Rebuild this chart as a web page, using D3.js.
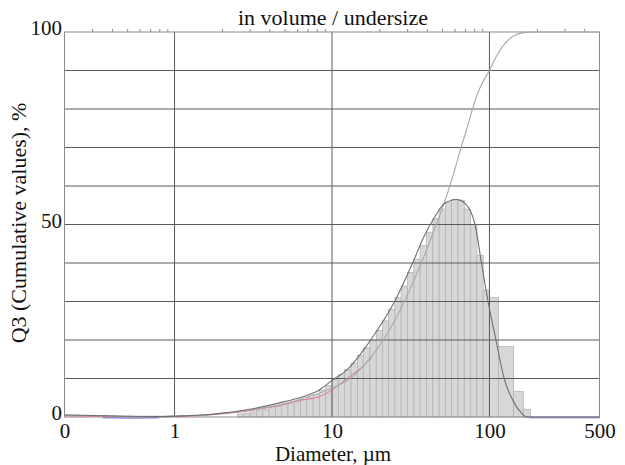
<!DOCTYPE html>
<html>
<head>
<meta charset="utf-8">
<script src="https://cdn.jsdelivr.net/npm/d3@7"></script>
<style>
  body { margin: 0; background: #fff; }
  text { font-family: "Liberation Serif", "Times New Roman", serif; fill: #111; }
</style>
</head>
<body>
<svg id="chart" width="625" height="465"></svg>
<script>
// x tick labels (first one is printed as "0" on the original)
var xTicks = [0.2, 1, 10, 100, 500];
var xTickText = ["0", "1", "10", "100", "500"];
var xGrid = [1, 10, 100];
var yTicks = [0, 50, 100];
var yGrid = [10, 20, 30, 40, 50, 60, 70, 80, 90];
var minorTicks = [0.3, 0.4, 0.5, 0.6, 0.7, 0.8, 0.9, 2, 3, 4, 5, 6, 7, 8, 9,
                  20, 30, 40, 50, 60, 70, 80, 90, 200, 300, 400];

// histogram bins (um edges) and heights
var binEdges = [2.51, 2.75, 3.02, 3.31, 3.63, 3.98, 4.37, 4.79, 5.25, 5.75, 6.31,
                6.92, 7.59, 8.32, 9.12, 10.0, 11.0, 12.0, 13.2, 14.5, 15.8,
                17.4, 19.1, 20.9, 22.9, 25.1, 27.5, 30.2, 33.1, 36.3, 39.8,
                43.7, 47.9, 52.5, 57.5, 63.1, 69.2, 75.9, 83.2, 91.2, 100,
                114, 142, 164, 182];
var binValues = [0.8, 1.0, 1.3, 1.6, 2.0, 2.4, 2.8, 3.2, 3.6, 4.0,
                 4.5, 5.0, 5.8, 7.0, 8.2, 9.7, 11.0, 12.3, 14.0, 16.0,
                 18.0, 20.0, 22.5, 25.0, 28.0, 31.0, 34.0, 37.5, 41.0, 44.5,
                 48.0, 51.5, 54.0, 55.8, 56.5, 56.3, 54.0, 50.0, 42.0, 33.0,
                 31.0, 18.3, 6.6, 2.0];

// cumulative curve Q3
var cumDiam = [0.2, 0.3, 0.5, 0.8, 1, 1.5, 2, 3, 5, 7, 10, 13, 16, 20, 25, 30, 36, 40,
               45, 50, 55, 60, 66, 72, 78, 85, 92, 100, 110, 120, 135, 150, 170, 200, 300, 500];
var cumValues = [0.5, 0.4, 0.2, 0.2, 0.3, 0.5, 0.9, 1.8, 3.5, 5.2, 7.5, 10, 13.5, 18.5, 25, 31.5, 39, 43.5,
                 49, 54, 59, 64, 70, 75, 80, 84.5, 87.5, 90, 93.5, 96, 98.3, 99.4, 99.9, 100, 100, 100];

// density curve q3
var densDiam = [0.2, 0.3, 0.5, 0.8, 1, 1.5, 2, 3, 5, 6.2, 8.3, 10, 12.5, 15.6, 19, 25, 32.5, 38,
                45, 52, 62, 70, 81, 89, 98, 110, 124, 143, 160, 172, 200, 500];
var densValues = [0.5, 0.4, 0.2, 0.1, 0.2, 0.5, 1, 2, 4, 5, 7, 9.5, 12.3, 17, 22, 30, 40, 46.5,
                  52, 55.5, 56.5, 55.5, 50, 40, 30, 20, 10, 3.8, 1, 0, 0, 0];

// second sample (pink) and baseline (blue) traces
var pinkDiam = [0.2, 0.5, 1, 1.5, 2, 3, 4, 5, 6.2, 8.2, 10, 12, 15, 18];
var pinkValues = [0.3, 0.1, 0.1, 0.4, 0.8, 1.6, 2.5, 3.3, 4.3, 5.2, 7, 9.5, 12.5, 15.5];
var blueDiamA = [0.35, 0.55, 0.8];
var blueValuesA = [-0.2, -0.3, -0.2];
var blueDiamB = [180, 300, 500];
var blueValuesB = [-0.2, -0.2, -0.2];

var svg = d3.select("#chart");
var x = d3.scaleLog().domain([0.2, 500]).range([64.5, 599.5]);
var y = d3.scaleLinear().domain([0, 100]).range([417, 32]);

// histogram bars
svg.append("g").selectAll("rect")
    .data(binValues)
    .enter()
    .append("rect")
    .attr("x", function (d, i) { return x(binEdges[i]); })
    .attr("width", function (d, i) { return x(binEdges[i + 1]) - x(binEdges[i]); })
    .attr("y", function (d) { return y(d); })
    .attr("height", function (d) { return y(0) - y(d); })
    .style("fill", "#d7d7d7")
    .style("stroke", "#b4b4b4")
    .style("stroke-width", 0.8);

// grid
svg.append("g").selectAll("line.h")
    .data(yGrid)
    .enter()
    .append("line")
    .attr("x1", x.range()[0]).attr("x2", x.range()[1])
    .attr("y1", function (d) { return y(d); })
    .attr("y2", function (d) { return y(d); })
    .style("stroke", "#5a5a5a").style("stroke-width", 1);
svg.append("g").selectAll("line.v")
    .data(xGrid)
    .enter()
    .append("line")
    .attr("x1", function (d) { return x(d); })
    .attr("x2", function (d) { return x(d); })
    .attr("y1", y(0)).attr("y2", y(100))
    .style("stroke", "#5a5a5a").style("stroke-width", 1);

// frame
svg.append("rect")
    .attr("x", x.range()[0]).attr("y", y(100))
    .attr("width", x.range()[1] - x.range()[0])
    .attr("height", y(0) - y(100))
    .style("fill", "none").style("stroke", "#8a8a8a").style("stroke-width", 1);

// minor ticks on top
var top_axis = svg.append("g")
    .attr("transform", "translate(0," + y(100) + ")")
    .call(d3.axisTop(x).tickValues(minorTicks).tickSize(3).tickFormat(""));
top_axis.select(".domain").remove();
top_axis.selectAll("line").style("stroke", "#8a8a8a");

// curves
var line = d3.line()
    .x(function (d) { return x(d[0]); })
    .y(function (d) { return y(d[1]); })
    .curve(d3.curveMonotoneX);

function draw_curve(xs, vs, color, width) {
    svg.append("path")
        .datum(d3.zip(xs, vs))
        .attr("d", line)
        .style("fill", "none")
        .style("stroke", color)
        .style("stroke-width", width);
}
draw_curve(pinkDiam, pinkValues, "#e07a8a", 1);
draw_curve(blueDiamA, blueValuesA, "#6a6ad8", 1);
draw_curve(blueDiamB, blueValuesB, "#6a6ad8", 1);
draw_curve(cumDiam, cumValues, "#a8a8a8", 1.1);
draw_curve(densDiam, densValues, "#6e6e6e", 1.1);

// x tick labels
var xa = svg.append("g")
    .attr("transform", "translate(0," + y(0) + ")")
    .call(d3.axisBottom(x).tickValues(xTicks).tickSize(0).tickPadding(6)
        .tickFormat(function (d, i) { return xTickText[i]; }));
xa.select(".domain").remove();
xa.selectAll("text").style("font-size", "21px").style("font-family", "Liberation Serif, serif").style("fill", "#111");

// y tick labels
var ya = svg.append("g")
    .attr("transform", "translate(" + x.range()[0] + ",0)")
    .call(d3.axisLeft(y).tickValues(yTicks).tickSize(0).tickPadding(2.5));
ya.select(".domain").remove();
ya.selectAll("text").attr("dy", "0.12em")
    .style("font-size", "21px").style("font-family", "Liberation Serif, serif").style("fill", "#111");

// titles
svg.append("text")
    .attr("x", 333).attr("y", 25)
    .attr("text-anchor", "middle")
    .style("font-size", "22px")
    .text("in volume / undersize");
svg.append("text")
    .attr("x", 333).attr("y", 461)
    .attr("text-anchor", "middle")
    .style("font-size", "21px")
    .text("Diameter, µm");
svg.append("text")
    .attr("transform", "translate(26,223)rotate(-90)")
    .attr("text-anchor", "middle")
    .style("font-size", "22px")
    .text("Q3 (Cumulative values), %");
</script>
</body>
</html>
